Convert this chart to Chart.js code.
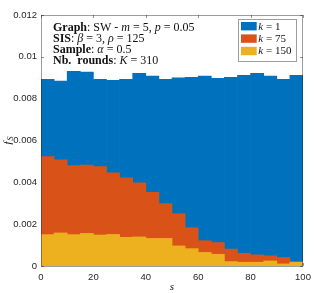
<!DOCTYPE html>
<html>
<head>
<meta charset="utf-8">
<script src="https://cdn.jsdelivr.net/npm/chart.js"></script>
<style>
  html, body { margin: 0; padding: 0; background: #fff; }
  #wrap { width: 319px; height: 293px; }
</style>
</head>
<body>
<div id="wrap"><canvas id="histChart" width="319" height="293"></canvas></div>
<script>
// bin centres (bins of width 5 on s = 0..100)
const binCenters = [2.5, 7.5, 12.5, 17.5, 22.5, 27.5, 32.5, 37.5, 42.5, 47.5,
                    52.5, 57.5, 62.5, 67.5, 72.5, 77.5, 82.5, 87.5, 92.5, 97.5];

const kValues = [1, 75, 150];

const fK1 = [0.00892, 0.00884, 0.00931, 0.00927, 0.00892, 0.00888, 0.00892, 0.00921, 0.00908, 0.00892,
             0.00900, 0.00902, 0.00908, 0.00897, 0.00902, 0.00911, 0.00921, 0.00908, 0.00892, 0.00911];
const fK75 = [0.00523, 0.00507, 0.00480, 0.00483, 0.00475, 0.00446, 0.00422, 0.00398, 0.00352, 0.00298,
              0.00250, 0.00183, 0.00121, 0.00112, 0.00081, 0.00061, 0.00053, 0.00049, 0.00041, 0.00015];
const fK150 = [0.00150, 0.00158, 0.00150, 0.00156, 0.00148, 0.00151, 0.00137, 0.00139, 0.00132, 0.00132,
               0.00096, 0.00083, 0.00065, 0.00056, 0.00021, 0.00018, 0.00018, 0.00024, 0.00010, 0.00019];

const yTickLabels = ["0", "0.002", "0.004", "0.006", "0.008", "0.01", "0.012"];
const xTickLabels = ["0", "20", "40", "60", "80", "100"];

const colores = ["#0072BD", "#D95319", "#EDB120"];

// info box, [text, style]
const infoLines = [
  [["Graph", "bold"], [": SW - ", "normal"], ["m", "italic"], [" = 5, ", "normal"], ["p", "italic"], [" = 0.05", "normal"]],
  [["SIS", "bold"], [": ", "normal"], ["β", "italic"], [" = 3, ", "normal"], ["ρ", "italic"], [" = 125", "normal"]],
  [["Sample", "bold"], [": ", "normal"], ["α", "italic"], [" = 0.5", "normal"]],
  [["Nb.  rounds", "bold"], [": ", "normal"], ["K", "italic"], [" = 310", "normal"]],
];

const SERIF = "'Liberation Serif', 'DejaVu Serif', serif";
const SANS = "'Liberation Sans', Arial, sans-serif";

function toPoints(vals) {
  return binCenters.map((c, i) => ({ x: c, y: vals[i] }));
}

function drawRich(ctx, x, y, parts, size) {
  let cx = x;
  parts.forEach(([txt, style]) => {
    ctx.font = `${style} ${size}px ${SERIF}`;
    ctx.fillText(txt, cx, y);
    cx += ctx.measureText(txt).width;
  });
}

const decoPlugin = {
  id: "deco",
  beforeDatasetsDraw(chart) {
    const { ctx, chartArea: a, scales } = chart;
    ctx.save();
    ctx.strokeStyle = "rgba(38,38,38,0.5)";
    ctx.lineWidth = 1;
    const tl = 3;
    ctx.beginPath();
    scales.y.ticks.forEach((t) => {
      const py = Math.round(scales.y.getPixelForValue(t.value)) + 0.5;
      ctx.moveTo(a.left, py); ctx.lineTo(a.left + tl, py);
      ctx.moveTo(a.right, py); ctx.lineTo(a.right - tl, py);
    });
    scales.x.ticks.forEach((t) => {
      const px = Math.round(scales.x.getPixelForValue(t.value)) + 0.5;
      ctx.moveTo(px, a.bottom); ctx.lineTo(px, a.bottom - tl);
      ctx.moveTo(px, a.top); ctx.lineTo(px, a.top + tl);
    });
    ctx.stroke();
    ctx.restore();
  },
  afterDatasetsDraw(chart) {
    const { ctx, chartArea: a } = chart;
    ctx.save();
    // caja de ejes
    ctx.strokeStyle = "rgba(38,38,38,0.45)";
    ctx.lineWidth = 1;
    ctx.strokeRect(Math.round(a.left) + 0.5, Math.round(a.top) + 0.5,
                   Math.round(a.right - a.left) - 1, Math.round(a.bottom - a.top));

    // bloque de texto
    ctx.fillStyle = "#111";
    ctx.textBaseline = "alphabetic";
    ctx.textAlign = "left";
    infoLines.forEach((line, i) => drawRich(ctx, 53, 30.5 + i * 11.2, line, 12));

    // leyenda
    const lx = 238.5, ly = 19.5, lw = 58, lh = 42;
    ctx.fillStyle = "#fff";
    ctx.fillRect(lx, ly, lw, lh);
    ctx.strokeStyle = "rgba(38,38,38,0.45)";
    ctx.strokeRect(lx, ly, lw, lh);
    chart.data.datasets.forEach((ds, i) => {
      const cy = 26.2 + i * 12.4;
      ctx.fillStyle = ds.backgroundColor;
      ctx.fillRect(241, cy - 4.2, 15.7, 8.4);
      ctx.fillStyle = "#111";
      ctx.textBaseline = "middle";
      drawRich(ctx, 258.3, cy + 0.5, [["k", "italic"], [" = " + kValues[i], "normal"]], 11);
    });

    // titulos de ejes
    ctx.textBaseline = "middle";
    ctx.textAlign = "left";
    ctx.font = `italic 11px ${SERIF}`;
    const sw = ctx.measureText("s").width;
    ctx.fillText("s", (a.left + a.right) / 2 - sw / 2, 287.5);

    ctx.translate(8, (a.top + a.bottom) / 2);
    ctx.rotate(-Math.PI / 2);
    ctx.font = `italic 11px ${SERIF}`;
    const fw = ctx.measureText("f").width;
    ctx.font = `italic 8px ${SERIF}`;
    const Sw = ctx.measureText("S").width;
    const x0 = -(fw + Sw + 1) / 2;
    ctx.font = `italic 11px ${SERIF}`;
    ctx.fillText("f", x0, 0);
    ctx.font = `italic 8px ${SERIF}`;
    ctx.fillText("S", x0 + fw + 1, 3);
    ctx.restore();
  },
};

function crearGrafico() {
  const ctx = document.getElementById("histChart").getContext("2d");
  const series = [fK1, fK75, fK150];

  new Chart(ctx, {
    type: "bar",
    data: {
      datasets: series.map((vals, i) => ({
        label: `k = ${kValues[i]}`,
        data: toPoints(vals),
        backgroundColor: colores[i],
        borderWidth: 0,
        barPercentage: 1,
        categoryPercentage: 1,
        grouped: false,
        order: series.length - i,
      })),
    },
    options: {
      responsive: false,
      animation: false,
      devicePixelRatio: 1,
      layout: { padding: { top: 15, right: 16, left: 0, bottom: 0 } },
      plugins: { legend: { display: false }, tooltip: { enabled: false } },
      scales: {
        x: {
          type: "linear",
          offset: false,
          min: 0,
          max: 100,
          ticks: {
            stepSize: 20,
            padding: 6,
            color: "#262626",
            font: { family: SANS, size: 9.5 },
            callback: (v, i) => xTickLabels[i],
          },
          grid: { display: false, drawTicks: false, offset: false },
          border: { display: false },
          afterFit: (s) => { s.height = 27; },
        },
        y: {
          min: 0,
          max: 0.012,
          ticks: {
            stepSize: 0.002,
            padding: 4,
            color: "#262626",
            font: { family: SANS, size: 9.5 },
            callback: (v, i) => yTickLabels[i],
          },
          grid: { display: false, drawTicks: false },
          border: { display: false },
          afterFit: (s) => { s.width = 41; },
        },
      },
    },
    plugins: [decoPlugin],
  });
}

document.addEventListener("DOMContentLoaded", crearGrafico);
</script>
</body>
</html>
